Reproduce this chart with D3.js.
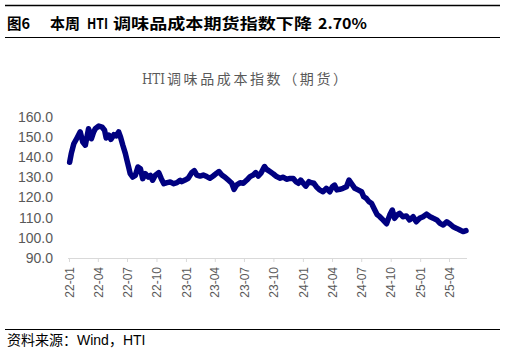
<!DOCTYPE html>
<html><head><meta charset="utf-8">
<script src="https://cdn.jsdelivr.net/npm/d3@7"></script>
<style>
html,body{margin:0;padding:0;background:#fff;}
svg{display:block;}
</style></head>
<body>
<svg id="c" width="506" height="353"></svg>
<script>
const dates = ["2022-01-03","2022-01-08","2022-01-16","2022-01-26","2022-02-05","2022-02-13","2022-02-21","2022-03-03","2022-03-12","2022-03-19","2022-03-24","2022-04-04","2022-04-14","2022-04-22","2022-04-27","2022-05-05","2022-05-12","2022-05-21","2022-05-28","2022-06-05","2022-06-11","2022-06-18","2022-06-26","2022-07-01","2022-07-06","2022-07-11","2022-07-19","2022-07-27","2022-08-04","2022-08-12","2022-08-19","2022-08-27","2022-09-05","2022-09-12","2022-09-19","2022-09-27","2022-10-08","2022-10-16","2022-10-24","2022-11-03","2022-11-13","2022-11-24","2022-12-04","2022-12-14","2022-12-19","2022-12-29","2023-01-08","2023-01-19","2023-01-27","2023-02-04","2023-02-14","2023-02-24","2023-03-07","2023-03-17","2023-03-27","2023-04-07","2023-04-14","2023-04-23","2023-05-03","2023-05-13","2023-05-24","2023-05-31","2023-06-08","2023-06-19","2023-06-29","2023-07-10","2023-07-20","2023-07-30","2023-08-07","2023-08-15","2023-08-23","2023-09-03","2023-09-10","2023-09-20","2023-10-01","2023-10-11","2023-10-22","2023-11-01","2023-11-11","2023-11-22","2023-12-02","2023-12-10","2023-12-18","2023-12-25","2024-01-02","2024-01-10","2024-01-20","2024-01-27","2024-02-04","2024-02-12","2024-02-22","2024-03-04","2024-03-14","2024-03-25","2024-04-02","2024-04-09","2024-04-16","2024-04-25","2024-05-05","2024-05-16","2024-05-24","2024-05-31","2024-06-11","2024-06-21","2024-07-02","2024-07-09","2024-07-17","2024-07-25","2024-08-02","2024-08-12","2024-08-20","2024-08-28","2024-09-07","2024-09-18","2024-09-28","2024-10-06","2024-10-13","2024-10-21","2024-10-29","2024-11-08","2024-11-19","2024-11-29","2024-12-10","2024-12-20","2024-12-30","2025-01-10","2025-01-21","2025-02-01","2025-02-11","2025-02-22","2025-03-04","2025-03-14","2025-03-25","2025-04-04","2025-04-14","2025-04-25","2025-05-05","2025-05-15","2025-05-24"];
const values = [137.5,141.8,146.7,149.6,152.6,147.6,146.0,154.2,149.2,152.6,154.2,155.5,155.0,153.4,149.6,151.0,148.9,151.2,150.6,152.6,150.0,146.0,141.8,138.5,135.2,131.9,130.2,131.0,135.2,134.3,129.4,131.9,130.2,131.0,128.6,131.0,132.4,129.4,126.9,127.4,127.7,126.9,127.4,128.6,127.9,128.7,129.6,132.4,133.4,131.2,130.7,131.2,130.4,129.6,130.7,132.1,132.9,131.2,130.1,128.7,127.1,124.1,126.2,127.4,127.1,128.7,130.4,131.2,132.4,130.7,132.1,135.4,134.0,132.9,131.7,130.4,129.6,130.1,129.1,129.5,129.5,127.9,127.1,128.7,127.1,125.7,127.9,127.4,127.1,125.4,123.8,122.9,124.6,122.9,125.4,126.2,123.8,124.1,124.6,125.4,128.7,127.1,124.6,123.8,122.9,120.4,119.6,118.0,117.2,114.0,111.5,110.5,108.9,107.0,111.3,113.8,109.7,111.3,112.2,110.5,110.9,108.9,110.5,108.0,109.7,110.5,111.8,110.5,109.7,108.9,107.2,106.4,108.0,106.9,105.5,104.7,103.9,103.1,103.6];
const yTicks = [90,100,110,120,130,140,150,160];
const xTickLabels = ["22-01","22-04","22-07","22-10","23-01","23-04","23-07","23-10","24-01","24-04","24-07","24-10","25-01","25-04"];

const svg = d3.select("#c");
const parse = d3.utcParse("%Y-%m-%d");
const data = dates.map((d,i)=>({d:parse(d), v:values[i]}));

// header
svg.append("line").attr("x1",5).attr("x2",500).attr("y1",5.5).attr("y2",5.5).attr("stroke","#000").attr("stroke-width",1.5);
const hdrFont = "'Noto Sans CJK SC','Liberation Sans',sans-serif";
const hdr = [
  {t:"图6", x:7, len:23},
  {t:"本周", x:50, len:30},
  {t:"HTI", x:87, len:21},
  {t:"调味品成本期货指数下降", x:113, len:199},
  {t:"2.70%", x:318, len:49}
];
svg.append("g").selectAll("text").data(hdr).join("text")
  .attr("x",d=>d.x).attr("y",29).attr("textLength",d=>d.len).attr("lengthAdjust","spacingAndGlyphs")
  .attr("font-family",hdrFont).attr("font-weight","bold").attr("font-size",15).attr("fill","#000")
  .text(d=>d.t);
svg.append("line").attr("x1",5).attr("x2",500).attr("y1",37.5).attr("y2",37.5).attr("stroke","#000").attr("stroke-width",1);

// chart title
const ttl = [
  {t:"HTI", x:142, len:23, adj:"spacingAndGlyphs"},
  {t:"调味品成本指数（期货）", x:167, len:180, adj:"spacing"}
];
svg.append("g").selectAll("text").data(ttl).join("text")
  .attr("x",d=>d.x).attr("y",84).attr("textLength",d=>d.len).attr("lengthAdjust",d=>d.adj)
  .attr("font-family","'DejaVu Serif','Noto Sans CJK SC',serif").attr("font-size",14).attr("fill","#595959")
  .text(d=>d.t);

const x = d3.scaleUtc().domain([parse("2022-01-01"), parse("2025-04-01")]).range([69,449]);
const y = d3.scaleLinear().domain([90,160]).range([258,117]);

// y labels
svg.append("g").selectAll("text").data(yTicks).join("text")
  .attr("x",53).attr("y",d=>y(d)).attr("dy","0.35em").attr("text-anchor","end")
  .attr("font-family","'Liberation Sans',Arial,sans-serif").attr("font-size",14).attr("fill","#595959")
  .text(d=>d.toFixed(1));

// x axis
const xTickDates = xTickLabels.map(s=>parse("20"+s+"-01"));
const xAxis = d3.axisBottom(x).tickValues(xTickDates).tickSize(4).tickFormat((d,i)=>xTickLabels[i]);
const gx = svg.append("g").attr("transform","translate(0,258)").call(xAxis);
gx.select(".domain").attr("d","M68,0.5H467").attr("stroke","#d9d9d9");
gx.selectAll(".tick line").attr("stroke","#d9d9d9");
gx.selectAll(".tick text")
  .attr("font-family","'Liberation Sans',Arial,sans-serif").attr("font-size",12).attr("fill","#595959")
  .attr("transform","rotate(-90)").attr("text-anchor","end").attr("x",-9).attr("y",0).attr("dy","0.35em");

// line
const line = d3.line().x(d=>x(d.d)).y(d=>y(d.v)).curve(d3.curveLinear);
svg.append("path").datum(data).attr("d",line).attr("fill","none")
  .attr("stroke","#000080").attr("stroke-width",5.5).attr("stroke-linejoin","round").attr("stroke-linecap","round");

// footer
svg.append("line").attr("x1",5).attr("x2",500).attr("y1",329.5).attr("y2",329.5).attr("stroke","#000").attr("stroke-width",1);
svg.append("text").attr("x",7).attr("y",345)
  .attr("font-family","'Liberation Sans','Noto Sans CJK SC',sans-serif").attr("font-size",14).attr("fill","#000")
  .text("资料来源：Wind，HTI");
</script>
</body></html>
